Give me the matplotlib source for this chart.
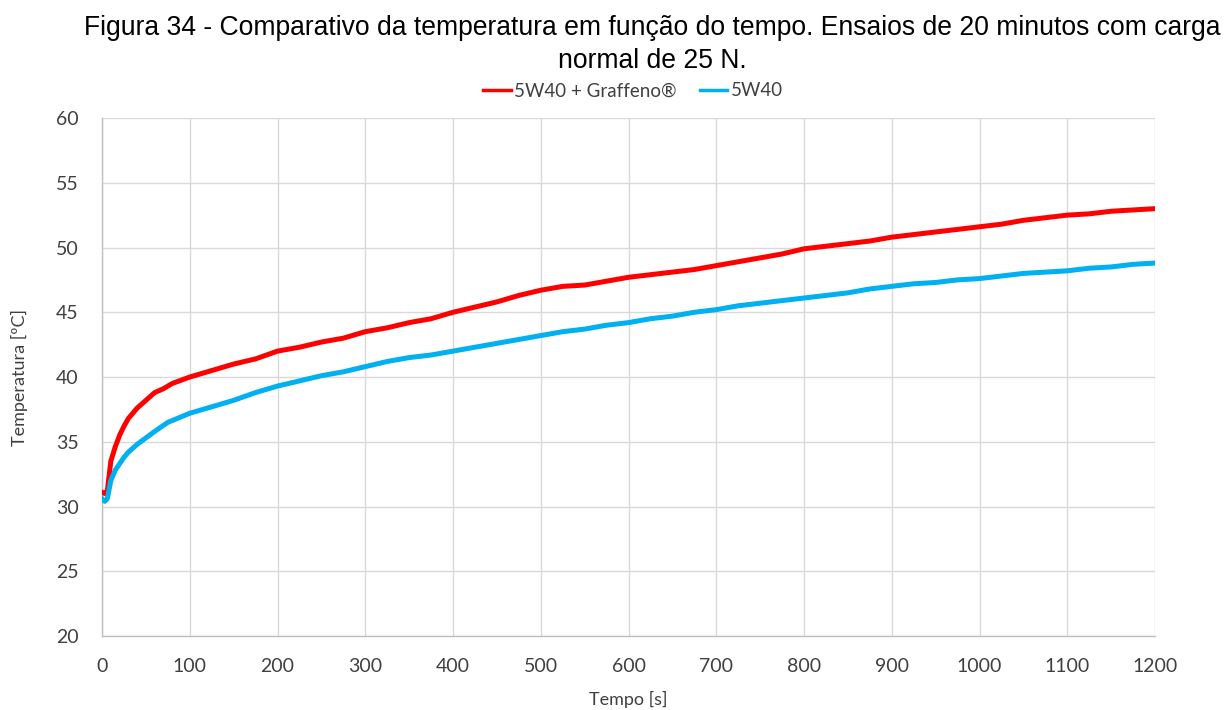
import matplotlib
matplotlib.use("Agg")
import matplotlib.pyplot as plt

# Data
t_red = [0, 3, 6, 10, 15, 20, 25, 30, 40, 50, 60, 70, 80, 100, 125, 150, 175, 200,
         225, 250, 275, 300, 325, 350, 375, 400, 425, 450, 475, 500, 525, 550, 575,
         600, 625, 650, 675, 700, 725, 750, 775, 800, 825, 850, 875, 900, 925, 950,
         975, 1000, 1025, 1050, 1075, 1100, 1125, 1150, 1175, 1200]
temp_red = [31.1, 31.0, 31.2, 33.5, 34.6, 35.5, 36.2, 36.8, 37.6, 38.2, 38.8, 39.1,
            39.5, 40.0, 40.5, 41.0, 41.4, 42.0, 42.3, 42.7, 43.0, 43.5, 43.8, 44.2,
            44.5, 45.0, 45.4, 45.8, 46.3, 46.7, 47.0, 47.1, 47.4, 47.7, 47.9, 48.1,
            48.3, 48.6, 48.9, 49.2, 49.5, 49.9, 50.1, 50.3, 50.5, 50.8, 51.0, 51.2,
            51.4, 51.6, 51.8, 52.1, 52.3, 52.5, 52.6, 52.8, 52.9, 53.0]

t_blue = [0, 3, 6, 10, 15, 20, 25, 30, 40, 50, 60, 75, 100, 125, 150, 175, 200, 225,
          250, 275, 300, 325, 350, 375, 400, 425, 450, 475, 500, 525, 550, 575, 600,
          625, 650, 675, 700, 725, 750, 775, 800, 825, 850, 875, 900, 925, 950, 975,
          1000, 1025, 1050, 1075, 1100, 1125, 1150, 1175, 1200]
temp_blue = [30.6, 30.4, 30.6, 32.0, 32.8, 33.3, 33.8, 34.2, 34.8, 35.3, 35.8, 36.5,
             37.2, 37.7, 38.2, 38.8, 39.3, 39.7, 40.1, 40.4, 40.8, 41.2, 41.5, 41.7,
             42.0, 42.3, 42.6, 42.9, 43.2, 43.5, 43.7, 44.0, 44.2, 44.5, 44.7, 45.0,
             45.2, 45.5, 45.7, 45.9, 46.1, 46.3, 46.5, 46.8, 47.0, 47.2, 47.3, 47.5,
             47.6, 47.8, 48.0, 48.1, 48.2, 48.4, 48.5, 48.7, 48.8]

x_ticks = list(range(0, 1201, 100))
y_ticks = list(range(20, 61, 5))

series_labels = ["5W40 + Graffeno®", "5W40"]
title_line1 = "Figura 34 - Comparativo da temperatura em função do tempo. Ensaios de 20 minutos com carga"
title_line2 = "normal de 25 N."

tick_font = "Lato"

fig = plt.figure(figsize=(12.28, 7.10), dpi=100)
ax = fig.add_axes([0.0831, 0.1042, 0.8575, 0.7296])

ax.plot(t_red, temp_red, color="#ff0000", lw=3.6, label=series_labels[0], zorder=3)
ax.plot(t_blue, temp_blue, color="#00b0f0", lw=3.6, label=series_labels[1], zorder=3)

ax.set_xlim(0, 1200)
ax.set_ylim(20, 60)
ax.set_xticks(x_ticks)
ax.set_yticks(y_ticks)
ax.grid(True, color="#d9d9d9", lw=1.0)
ax.set_axisbelow(True)
for s in ["top", "right"]:
    ax.spines[s].set_visible(False)
for s in ["left", "bottom"]:
    ax.spines[s].set_color("#bfbfbf")
    ax.spines[s].set_linewidth(1.0)
ax.tick_params(length=0, labelsize=14, labelcolor="#404040")
ax.tick_params(axis="y", pad=17)
ax.tick_params(axis="x", pad=16)
for lab in ax.get_xticklabels() + ax.get_yticklabels():
    lab.set_fontfamily(tick_font)

ax.set_xlabel("Tempo [s]", fontsize=13, family=tick_font, color="#404040", labelpad=11)
ax.set_ylabel("Temperatura [ºC]", fontsize=13, family=tick_font, color="#404040", labelpad=20)

fig.text(652 / 1228, 1 - 35 / 710, title_line1, ha="center", va="baseline",
         fontsize=19.1, family="Liberation Sans", color="black")
fig.text(652 / 1228, 1 - 68 / 710, title_line2, ha="center", va="baseline",
         fontsize=19.1, family="Liberation Sans", color="black")

leg = fig.legend(loc="center", bbox_to_anchor=(633 / 1228, 1 - 91 / 710), ncol=2,
                 frameon=False, prop={"family": tick_font, "size": 13.5},
                 handlelength=1.45, handletextpad=0.2, columnspacing=1.2,
                 borderpad=0, borderaxespad=0)
for line in leg.get_lines():
    line.set_linewidth(2.5)
for txt in leg.get_texts():
    txt.set_color("#404040")

fig.savefig("out.png", dpi=100)
